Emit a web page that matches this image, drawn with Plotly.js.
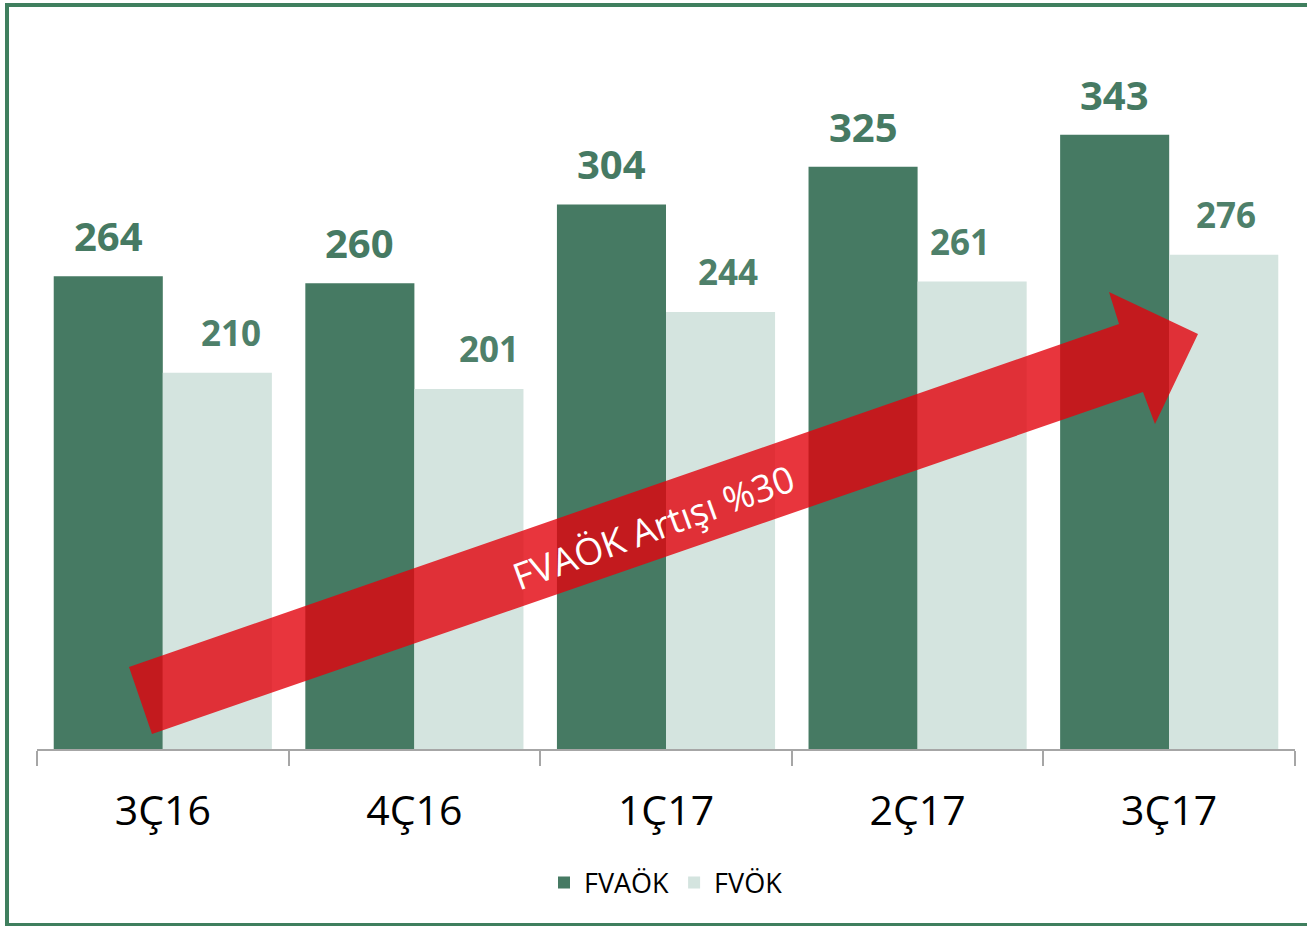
<!DOCTYPE html>
<html>
<head>
<meta charset="utf-8">
<script src="https://cdn.plot.ly/plotly-3.0.1.min.js"></script>
<style>
  html, body { margin: 0; padding: 0; background: #ffffff; }
  #chart { width: 1307px; height: 926px; position: absolute; left: 0; top: 0; }
  #frame { position: absolute; left: 5px; top: 3px; width: 1310px; height: 916px;
           border-left: 4px solid #3F7F5E; border-top: 4px solid #3F7F5E; border-bottom: 4px solid #3F7F5E;
           pointer-events: none; }
</style>
</head>
<body>
<div id="chart"></div>
<div id="frame"></div>
<script>
const categories = ["3Ç16", "4Ç16", "1Ç17", "2Ç17", "3Ç17"];
const fvaok = [264, 260, 304, 325, 343];
const fvok = [210, 201, 244, 261, 276];
const seriesNames = ["FVAÖK", "FVÖK"];
const arrowLabel = "FVAÖK Artışı %30";

const DARK = "#467A63";
const LIGHT = "#D4E4DF";
const W = 1307, H = 926;
const M = {l: 37, r: 12, t: 20, b: 177};
const plotW = W - M.l - M.r, plotH = H - M.t - M.b;
function px(x) { return (x - M.l) / plotW; }
function py(y) { return (H - M.b - y) / plotH; }

// label nudges (pixels) as placed in the original
const fvokLabelNudge = [14, 20, 7, -12, 2];

const arrowPts = [[129,667],[1119,324],[1109,292],[1198,334],[1155,424],[1143,392],[152,734]];
const arrowPath = "M " + arrowPts.map(p => px(p[0]).toFixed(5) + "," + py(p[1]).toFixed(5)).join(" L ") + " Z";

const barHalf = 0.5 * plotW / categories.length * (1 - 0.133) / 2;

const annotations = [];
categories.forEach((c, i) => {
  annotations.push({x: c, y: fvaok[i], xref: "x", yref: "y", text: String(fvaok[i]), showarrow: false,
    xshift: -barHalf, yanchor: "bottom", yshift: 11,
    font: {family: "Open Sans", size: 40, color: DARK, weight: "bold"}});
  annotations.push({x: c, y: fvok[i], xref: "x", yref: "y", text: String(fvok[i]), showarrow: false,
    xshift: barHalf + fvokLabelNudge[i], yanchor: "bottom", yshift: 15,
    font: {family: "Open Sans", size: 35, color: "#4E806A", weight: "bold"}});
});
annotations.push({x: px(653), y: py(526), xref: "paper", yref: "paper", text: arrowLabel, showarrow: false,
  textangle: -20, xanchor: "center", yanchor: "middle",
  font: {family: "Open Sans", size: 37, color: "#ffffff"}});

const data = [
  {type: "bar", name: seriesNames[0], x: categories, y: fvaok, marker: {color: DARK}, hoverinfo: "none"},
  {type: "bar", name: seriesNames[1], x: categories, y: fvok, marker: {color: LIGHT}, hoverinfo: "none"}
];

const layout = {
  width: W, height: H,
  margin: M,
  paper_bgcolor: "#ffffff", plot_bgcolor: "#ffffff",
  barmode: "group", bargap: 0.133, bargroupgap: 0,
  showlegend: true,
  legend: {orientation: "h", x: 0.5, xanchor: "center", y: py(883), yanchor: "middle",
           font: {family: "Open Sans", size: 27, color: "#000000"}, itemwidth: 30},
  xaxis: {type: "category", showline: true, linecolor: "#A6A6A6", linewidth: 2,
          ticks: "outside", tickson: "boundaries", ticklen: 15, tickcolor: "#A6A6A6", tickwidth: 2,
          tickfont: {family: "Open Sans", size: 41, color: "#000000"}, ticklabelstandoff: 25,
          showgrid: false, zeroline: false},
  yaxis: {range: [0, 407], visible: false, showgrid: false, zeroline: false},
  shapes: [{type: "path", xref: "paper", yref: "paper", path: arrowPath, layer: "above",
            fillcolor: "rgba(226,3,13,0.8)", line: {width: 0}}],
  annotations: annotations
};

Plotly.newPlot("chart", data, layout, {displayModeBar: false, staticPlot: true});
</script>
</body>
</html>
